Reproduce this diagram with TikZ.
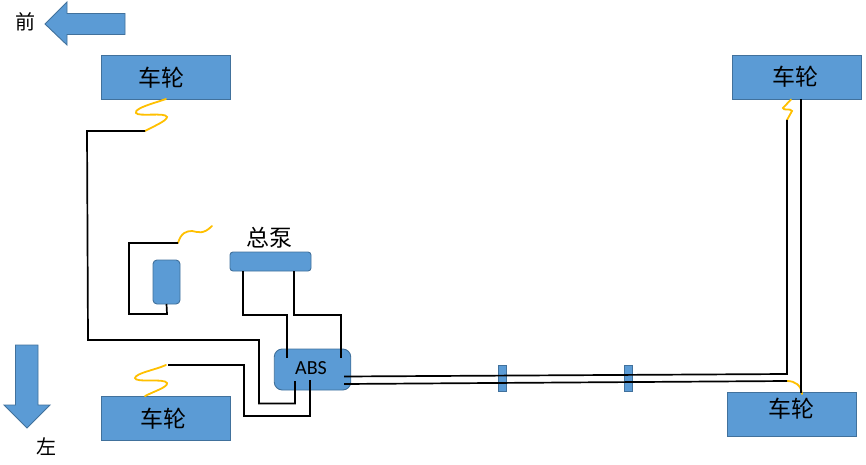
\documentclass[tikz,border=0pt]{standalone}
\usepackage{fontspec}
\setmainfont{Carlito}
\newfontfamily\cjk{Noto Sans CJK SC}
\definecolor{blu}{HTML}{5B9BD5}
\definecolor{bord}{HTML}{41719C}
\definecolor{yel}{HTML}{FFC000}
\tikzset{
  part/.style={draw=bord,fill=blu,line width=0.9pt,inner sep=0pt,outer sep=0pt},
  wheel/.style={part,minimum width=129.5pt,minimum height=44pt},
  wheeltext/.style={inner sep=0pt,font=\cjk\fontsize{23}{23}\selectfont},
  valve/.style={part,minimum width=8pt,minimum height=26pt},
  wire/.style={black,line width=1.7pt,line join=miter},
  sensor/.style={yel,line width=1.8pt,line cap=round},
  bigarrow/.style={draw=bord,fill=blu,line width=0.9pt},
  lab/.style={inner sep=0pt,font=\cjk\fontsize{20}{20}\selectfont}
}
\begin{document}
\begin{tikzpicture}[x=1pt,y=-1pt]
\useasboundingbox[fill=white] (0,0) rectangle (866,465);
% direction arrows
\draw[bigarrow] (45,24) -- (67,2) -- (67,13.5) -- (125,13.5) -- (125,34.5) -- (67,34.5) -- (67,45) -- cycle;
\draw[bigarrow] (15.5,345) -- (38,345) -- (38,405) -- (50,405) -- (27,428) -- (4,405) -- (15.5,405) -- cycle;
\node[lab] (front) at (25,22) {前};
\node[lab] (left) at (46,447) {左};
% parts
\node[wheel] (wTL) at (166,77) {};
\node[wheel] (wTR) at (797,77) {};
\node[wheel] (wBL) at (166,418) {};
\node[wheel] (wBR) at (792,414) {};
\node[wheeltext] (tTL) at (161,78) {车轮};
\node[wheeltext] (tTR) at (795,77) {车轮};
\node[wheeltext] (tBL) at (163,419) {车轮};
\node[wheeltext] (tBR) at (791,409) {车轮};
\node[part,rounded corners=4pt,minimum width=27pt,minimum height=44pt] (pedal) at (166.5,282) {};
\node[part,rounded corners=3pt,minimum width=81pt,minimum height=19pt] (pump) at (270.5,261.5) {};
\node[wheeltext] (pumplab) at (269.5,238) {总泵};
\node[part,rounded corners=8pt,minimum width=76.5pt,minimum height=41pt] (abs) at (312.5,369.5) {};
\node[inner sep=0pt,font=\fontsize{20}{20}\selectfont] (abslab) at (311,368) {ABS};
\node[valve] (v1) at (502,378) {};
\node[valve] (v2) at (628,378) {};
% wire ends
\coordinate (sTL) at (145,131);
\coordinate (sBL) at (168,365);
\coordinate (sP) at (178,243);
\coordinate (sTR) at (787,120);
\coordinate (sBR) at (787,381);
\coordinate (a1) at (295,381);
\coordinate (a2) at (310,380);
\coordinate (a3) at (287,358);
\coordinate (a4) at (341,358);
\coordinate (a5) at (344,376.5);
\coordinate (a6) at (344,384);
% yellow sensor leads
\draw[sensor] (wTL.south) ++(0,0) .. controls (155,103) and (134,108) .. (136,113) .. controls (138,117) and (166,112) .. (167,117) .. controls (167,121) and (152,127) .. (sTL);
\draw[sensor] (wBL.north -| 145,0) .. controls (155,391) and (168,387) .. (167,383) .. controls (165,378) and (135,383) .. (135,378) .. controls (136,373) and (155,370) .. (166,365);
\draw[sensor] (sP) .. controls (181,233) and (186,231) .. (192,231) .. controls (198,232) and (203,235) .. (212,226);
\draw[sensor] (791,99.5) -- (783,108) .. controls (783,111) and (791,108) .. (792,111) -- (sTR);
\draw[sensor] (sBR) .. controls (795,381) and (801,385) .. (802,394);
% black wires
\draw[wire] (sTL) -- (87,131) -- (88,340) -- (259,340) -- (259,403.5) -- (295,403.5) -- (a1);
\draw[wire] (sBL) -- (244,365) -- (244,416) -- (310,416) -- (a2);
\draw[wire] (sP) -- (129,243) -- (129,314) -- (167,314) -- (pedal.south);
\draw[wire] (pump.south -| 243,0) -- (243,315) -- (287,315) -- (a3);
\draw[wire] (pump.south -| 294,0) -- (294,315) -- (341,315) -- (a4);
\draw[wire] (a5) -- (787,374) -- (sTR);
\draw[wire] (a6) -- (sBR);
\draw[wire] (wTR.south -| 801,0) -- (801,393);
\end{tikzpicture}
\end{document}
